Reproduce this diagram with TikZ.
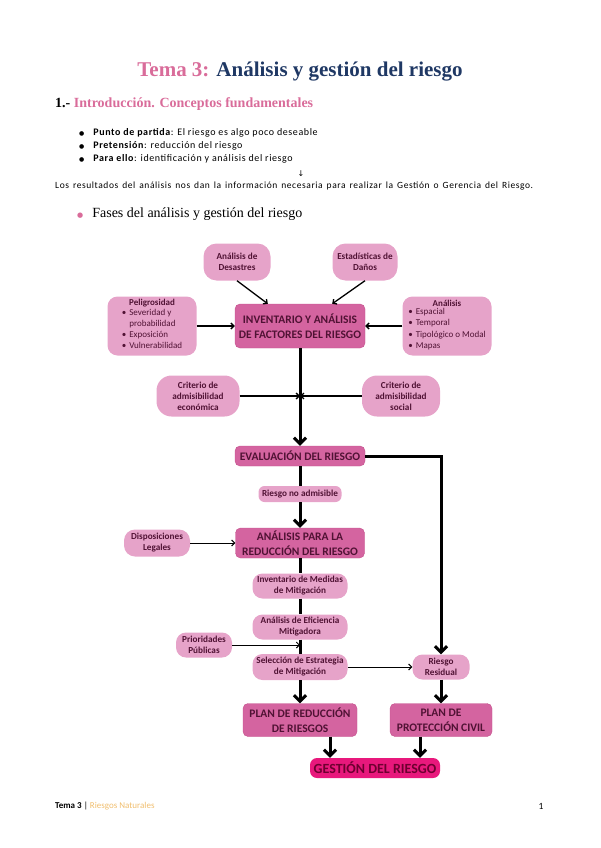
\documentclass[tikz,border=0pt]{standalone}
\usepackage{fontspec}
\setmainfont{Carlito}
\newfontfamily\serifhead{Liberation Serif}
\newfontfamily\symbolfont{DejaVu Sans}
\usetikzlibrary{arrows.meta}

\definecolor{rosaTitulo}{RGB}{217,108,154}
\definecolor{azulTitulo}{RGB}{31,56,100}
\definecolor{rosaClaro}{RGB}{230,163,201}
\definecolor{rosaFuerte}{RGB}{212,100,160}
\definecolor{rosaBorde}{RGB}{196,80,140}
\definecolor{rosaGestion}{RGB}{232,24,124}
\definecolor{textoCaja}{RGB}{80,18,52}
\definecolor{textoGestion}{RGB}{110,0,48}
\definecolor{naranjaPie}{RGB}{240,190,110}

\newcommand{\setsize}[2]{\fontsize{#1}{#2}\selectfont}

\begin{document}
\begin{tikzpicture}[x=1pt,y=-1pt]

	\tikzstyle{box_soft} = [rounded corners=9pt, fill=rosaClaro, text=textoCaja, font=\bfseries\setsize{9.2}{11}, align=center, inner sep=1pt]
	\tikzstyle{box_list} = [rounded corners=10pt, fill=rosaClaro, text=textoCaja, font=\setsize{9}{11.2}, align=center, inner sep=1pt]
	\tikzstyle{box_main} = [rounded corners=5pt, fill=rosaFuerte, draw=rosaBorde, text=textoCaja, font=\bfseries\setsize{11.5}{15}, align=center, inner sep=1pt]
	\tikzstyle{box_final} = [rounded corners=7pt, fill=rosaGestion, text=textoGestion, font=\bfseries\setsize{14}{15}, align=center, inner sep=1pt]
	\tikzstyle{line_thick} = [line width=3pt]
	\tikzstyle{arrow_thick} = [line width=3pt, -{Straight Barb[length=6pt,width=12pt]}]
	\tikzstyle{arrow_thin} = [line width=1.3pt, -{Straight Barb[length=3pt,width=6pt]}]
	\tikzstyle{bullet_item} = [anchor=west, inner sep=0pt]

	\useasboundingbox (0,0) rectangle (600,848);

%------------------------------------------------------------
	\node (titulo) at (300,72) {\serifhead\bfseries\setsize{21}{23}\textcolor{rosaTitulo}{Tema 3:} \textcolor{azulTitulo}{Análisis y gestión del riesgo}};
	\node[anchor=west, inner sep=0pt] (intro) at (55,104) {\serifhead\bfseries\setsize{14}{16}1.- \textcolor{rosaTitulo}{Introducción. Conceptos fundamentales}};

	\node[bullet_item] (punto) at (79,133) {\symbolfont\setsize{6}{8}●\hspace{9pt}\normalfont\setsize{10}{11}\addfontfeature{LetterSpace=6}\textbf{Punto de partida}: El riesgo es algo poco deseable};
	\node[bullet_item] (pretension) at (79,146) {\symbolfont\setsize{6}{8}●\hspace{9pt}\normalfont\setsize{10}{11}\addfontfeature{LetterSpace=6}\textbf{Pretensión}: reducción del riesgo};
	\node[bullet_item] (paraello) at (79,159) {\symbolfont\setsize{6}{8}●\hspace{9pt}\normalfont\setsize{10}{11}\addfontfeature{LetterSpace=6}\textbf{Para ello}: identificación y análisis del riesgo};
	\node[inner sep=0pt] (flecha) at (301,174) {\symbolfont\setsize{8}{9}↓};
	\node[anchor=west, inner sep=0pt] (resultados) at (55,186) {\setsize{9.5}{11}\addfontfeature{LetterSpace=6}\makebox[478pt][s]{Los resultados del análisis nos dan la información necesaria para realizar la Gestión o Gerencia del Riesgo.}};
	\node[anchor=west, inner sep=0pt] (fases) at (77,214) {\symbolfont\setsize{7}{8}\textcolor{rosaTitulo}{●}\hspace{9pt}\serifhead\setsize{14}{16}Fases del análisis y gestión del riesgo};

%------------------------------------------------------------
	\node[box_soft, minimum width=67pt, minimum height=37pt, rounded corners=13pt] (desastres) at (237,262) {Análisis de\\Desastres};
	\node[box_soft, minimum width=65pt, minimum height=37pt, rounded corners=13pt] (danos) at (365,262) {Estadísticas de\\Daños};

	\node[box_main, minimum width=130pt, minimum height=44pt] (inventario) at (300,326) {INVENTARIO Y ANÁLISIS\\DE FACTORES DEL RIESGO};

	\node[box_list, minimum width=89pt, minimum height=59pt] (peligro) at (152,326) {\textbf{Peligrosidad}\\[-1pt]
		\begin{tabular}{@{}l@{\hspace{3pt}}l@{}}
		• & Severidad y\\ & probabilidad\\ • & Exposición\\ • & Vulnerabilidad
		\end{tabular}};
	\node[box_list, minimum width=89pt, minimum height=59pt] (analisis) at (447,326) {\textbf{Análisis}\\[-1pt]
		\begin{tabular}{@{}l@{\hspace{3pt}}l@{}}
		• & Espacial\\ • & Temporal\\ • & Tipológico o Modal\\ • & Mapas
		\end{tabular}};

	\path[arrow_thin] (desastres.south) edge ([xshift=33pt]inventario.north west);
	\path[arrow_thin] (danos.south) edge ([xshift=-33pt]inventario.north east);
	\path[arrow_thin] (peligro.east) edge (inventario.west);
	\path[arrow_thin] (analisis.west) edge (inventario.east);

%------------------------------------------------------------
	\node[box_soft, minimum width=83pt, minimum height=41pt, rounded corners=15pt] (economica) at (198,396) {Criterio de\\admisibilidad\\económica};
	\node[box_soft, minimum width=78pt, minimum height=41pt, rounded corners=15pt] (social) at (401,396) {Criterio de\\admisibilidad\\social};
	\coordinate (cruce) at (300,396);

	\node[box_main, minimum width=130pt, minimum height=20pt] (evaluacion) at (300,456) {EVALUACIÓN DEL RIESGO};
	\node[box_soft, minimum width=83pt, minimum height=16pt, rounded corners=6pt] (noadmisible) at (300,494) {Riesgo no admisible};

	\path[arrow_thick] (inventario.south) edge (evaluacion.north);
	\path[arrow_thin] (economica.east) edge (cruce);
	\path[arrow_thin] (social.west) edge (cruce);

%------------------------------------------------------------
	\node[box_main, minimum width=129pt, minimum height=30pt] (reduccion) at (300,543) {ANÁLISIS PARA LA\\REDUCCIÓN DEL RIESGO};
	\node[box_soft, minimum width=66pt, minimum height=27pt, rounded corners=11pt] (legales) at (157,543) {Disposiciones\\Legales};
	\node[box_soft, minimum width=95pt, minimum height=25pt, rounded corners=10pt] (medidas) at (300,586) {Inventario de Medidas\\de Mitigación};
	\node[box_soft, minimum width=95pt, minimum height=25pt, rounded corners=10pt] (eficiencia) at (300,627) {Análisis de Eficiencia\\Mitigadora};
	\node[box_soft, minimum width=56pt, minimum height=25pt, rounded corners=10pt] (prioridades) at (204,645) {Prioridades\\Públicas};
	\node[box_soft, minimum width=95pt, minimum height=26pt, rounded corners=10pt] (seleccion) at (300,667) {Selección de Estrategia\\de Mitigación};
	\node[box_soft, minimum width=57pt, minimum height=25pt, rounded corners=10pt] (residual) at (441,667) {Riesgo\\Residual};

	\path[line_thick] (evaluacion.south) edge (noadmisible.north);
	\path[arrow_thick] (noadmisible.south) edge (reduccion.north);
	\draw[arrow_thick] (evaluacion.east) -| (residual.north);
	\path[line_thick] (reduccion.south) edge (medidas.north);
	\path[line_thick] (medidas.south) edge (eficiencia.north);
	\path[line_thick] (eficiencia.south) edge (seleccion.north);
	\path[arrow_thin, line width=1pt] (legales.east) edge (reduccion.west);
	\path[arrow_thin, line width=1pt] (prioridades.east) edge (prioridades.east -| seleccion.north);
	\path[arrow_thin, line width=1pt] (seleccion.east) edge (residual.west);

%------------------------------------------------------------
	\node[box_main, minimum width=114pt, minimum height=33pt] (planreduccion) at (300,720) {PLAN DE REDUCCIÓN\\DE RIESGOS};
	\node[box_main, minimum width=102pt, minimum height=33pt] (planproteccion) at (441,720) {PLAN DE\\PROTECCIÓN CIVIL};
	\node[box_final, minimum width=130pt, minimum height=20pt] (gestion) at (375,768) {GESTIÓN DEL RIESGO};

	\path[arrow_thick] (seleccion.south) edge (planreduccion.north);
	\path[arrow_thick] (residual.south) edge (planproteccion.north);
	\path[arrow_thick] ([xshift=30pt]planreduccion.south) edge ([xshift=30pt]planreduccion.south |- gestion.north);
	\path[arrow_thick] ([xshift=-21pt]planproteccion.south) edge ([xshift=-21pt]planproteccion.south |- gestion.north);

%------------------------------------------------------------
	\node[anchor=west, inner sep=0pt] (pie) at (55,806) {\setsize{9}{10}\textbf{Tema 3} | \textcolor{naranjaPie}{Riesgos Naturales}};
	\node[inner sep=0pt] (pagina) at (541,806) {\setsize{9.5}{10}1};

\end{tikzpicture}
\end{document}
